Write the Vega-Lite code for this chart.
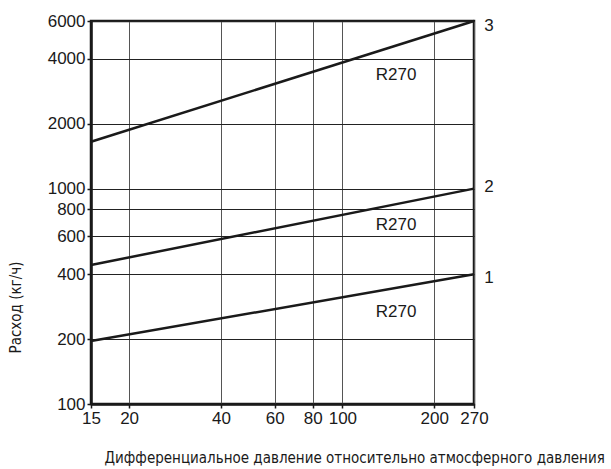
{
  "$schema": "https://vega.github.io/schema/vega-lite/v6.json",
  "autosize": {"type": "none"},
  "width": 383,
  "height": 383,
  "padding": {"left": 91, "top": 21, "right": 137, "bottom": 65},
  "background": "white",
  "config": {
    "view": {"stroke": "#1a1a1a", "strokeWidth": 2.5},
    "font": "Liberation Sans"
  },
  "datasets": {
    "lines": [
      {"dp": 15, "flow": 1650, "series": "3"},
      {"dp": 270, "flow": 6000, "series": "3"},
      {"dp": 15, "flow": 442, "series": "2"},
      {"dp": 270, "flow": 1000, "series": "2"},
      {"dp": 15, "flow": 196, "series": "1"},
      {"dp": 270, "flow": 400, "series": "1"}
    ],
    "inner": [
      {"dp": 150, "flow": 3370, "label": "R270"},
      {"dp": 150, "flow": 678, "label": "R270"},
      {"dp": 150, "flow": 267, "label": "R270"}
    ],
    "ends": [
      {"dp": 270, "flow": 5700, "label": "3"},
      {"dp": 270, "flow": 1017, "label": "2"},
      {"dp": 270, "flow": 385, "label": "1"}
    ]
  },
  "layer": [
    {
      "data": {"name": "lines"},
      "mark": {"type": "line", "color": "#1a1a1a", "strokeWidth": 2.5},
      "encoding": {
        "x": {
          "field": "dp", "type": "quantitative",
          "scale": {"type": "log", "domain": [15, 270], "nice": false},
          "axis": {
            "values": [15, 20, 40, 60, 80, 100, 200, 270],
            "format": "d",
            "grid": true, "gridColor": "#555", "gridWidth": 1, "gridOpacity": 1,
            "domainColor": "#1a1a1a", "domainWidth": 2.5,
            "tickColor": "#1a1a1a", "tickSize": 4, "tickWidth": 1.5,
            "labelFont": "Liberation Sans", "labelFontSize": 17, "labelColor": "#1a1a1a", "labelPadding": 2,
            "labelFlush": false, "labelOverlap": false,
            "title": "Дифференциальное давление относительно атмосферного давления",
            "titleFont": "'DejaVu Sans Condensed', 'Liberation Sans', sans-serif", "titleFontSize": 15, "titleFontWeight": "normal", "titleColor": "#1a1a1a",
            "titleAnchor": "start", "titleAlign": "left", "titleBaseline": "middle",
            "titleX": 13, "titleY": 53
          }
        },
        "y": {
          "field": "flow", "type": "quantitative",
          "scale": {"type": "log", "domain": [100, 6000], "nice": false},
          "axis": {
            "values": [100, 200, 400, 600, 800, 1000, 2000, 4000, 6000],
            "format": "d",
            "grid": true, "gridColor": "#222", "gridWidth": 1, "gridOpacity": 1,
            "domainColor": "#1a1a1a", "domainWidth": 2.5,
            "tickColor": "#1a1a1a", "tickSize": 4, "tickWidth": 1.5,
            "labelFont": "Liberation Sans", "labelFontSize": 17, "labelColor": "#1a1a1a", "labelPadding": 2,
            "labelFlush": false, "labelOverlap": false,
            "title": "Расход (кг/ч)",
            "titleFont": "'DejaVu Sans Condensed', 'Liberation Sans', sans-serif", "titleFontSize": 15, "titleFontWeight": "normal", "titleColor": "#1a1a1a",
            "titleAngle": -90, "titleAlign": "center", "titleBaseline": "middle",
            "titleX": -76, "titleY": 286
          }
        },
        "detail": {"field": "series", "type": "nominal"}
      }
    },
    {
      "data": {"name": "inner"},
      "mark": {"type": "text", "font": "Liberation Sans", "fontSize": 17, "color": "#1a1a1a", "align": "center", "baseline": "middle"},
      "encoding": {
        "x": {"field": "dp", "type": "quantitative"},
        "y": {"field": "flow", "type": "quantitative"},
        "text": {"field": "label", "type": "nominal"}
      }
    },
    {
      "data": {"name": "ends"},
      "mark": {"type": "text", "font": "Liberation Sans", "fontSize": 17, "color": "#1a1a1a", "align": "center", "baseline": "middle", "dx": 15, "clip": false},
      "encoding": {
        "x": {"field": "dp", "type": "quantitative"},
        "y": {"field": "flow", "type": "quantitative"},
        "text": {"field": "label", "type": "nominal"}
      }
    }
  ]
}
